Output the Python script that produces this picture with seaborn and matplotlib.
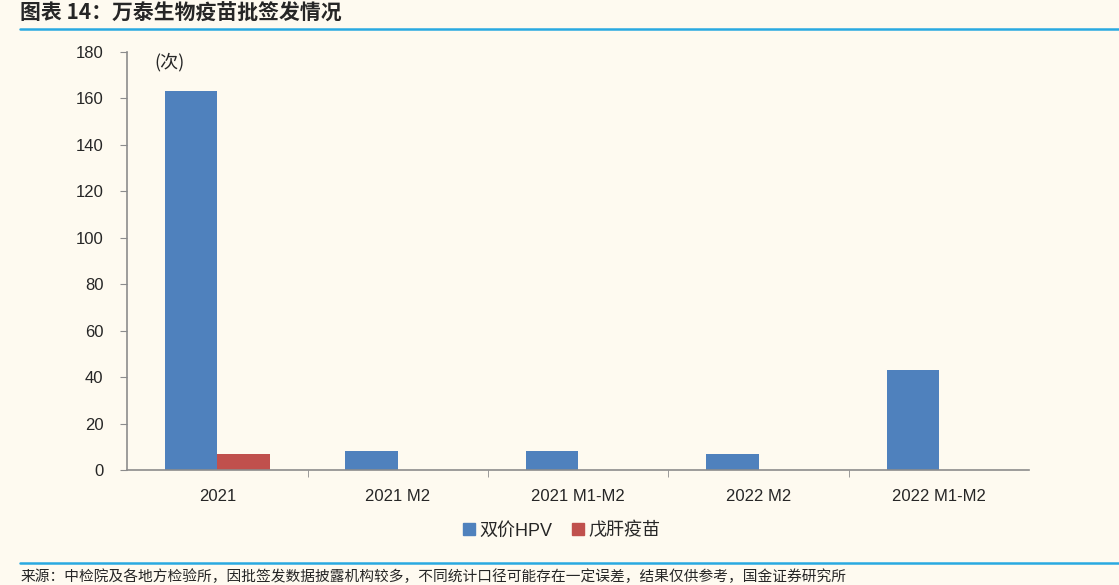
import pandas as pd
import matplotlib.pyplot as plt
import seaborn as sns
from matplotlib.lines import Line2D

# Data
categories = ["2021", "2021 M2", "2021 M1-M2", "2022 M2", "2022 M1-M2"]
hpv = [163, 8, 8, 7, 43]
hev = [7, 0, 0, 0, 0]
series_names = ["双价HPV", "戊肝疫苗"]
colors = ["#4F81BD", "#C0504D"]
yticks = [0, 20, 40, 60, 80, 100, 120, 140, 160, 180]

df = pd.DataFrame({
    "cat": categories * 2,
    "val": hpv + hev,
    "series": [series_names[0]] * len(categories) + [series_names[1]] * len(categories),
})

sns.set_style("white")
plt.rcParams["font.family"] = ["Liberation Sans", "Noto Sans CJK SC", "DejaVu Sans"]
bg = "#FEFAF0"

fig = plt.figure(figsize=(11.19, 5.85), dpi=100, facecolor=bg)
ax = fig.add_axes([0.1135, 0.1966, 0.8065, 0.7145])
ax.set_facecolor(bg)

sns.barplot(data=df, x="cat", y="val", hue="series", order=categories,
            hue_order=series_names, palette=colors, width=0.58,
            saturation=1, linewidth=0, ax=ax, legend=False)

ax.set_ylim(0, 180)
ax.set_yticks(yticks)
ax.set_xlim(-0.5, len(categories) - 0.5)
ax.set_xlabel("")
ax.set_ylabel("")

for s in ["top", "right"]:
    ax.spines[s].set_visible(False)
for s in ["left", "bottom"]:
    ax.spines[s].set_color("#8C8C8C")
    ax.spines[s].set_linewidth(1.2)

ax.tick_params(axis="y", direction="out", length=5, color="#8C8C8C",
               labelsize=12, pad=12, left=True)
ax.set_xticks(range(len(categories)))
ax.set_xticklabels(categories, fontsize=12)
ax.tick_params(axis="x", length=0, pad=14)
# tick marks between categories
ax.set_xticks([i + 0.5 for i in range(len(categories) - 1)], minor=True)
ax.tick_params(axis="x", which="minor", direction="out", length=5,
               color="#8C8C8C", bottom=True)

ax.text(0.03, 0.975, "(次)", transform=ax.transAxes, fontsize=13,
        family=["Noto Sans CJK SC"], va="center", ha="left")

handles = [Line2D([], [], marker="s", linestyle="", markersize=8,
                  markerfacecolor=c, markeredgecolor=c) for c in colors]
fig.legend(handles, series_names, loc="center", bbox_to_anchor=(0.5, 0.093),
           ncol=2, frameon=False, handletextpad=0.0, handlelength=1.2,
           columnspacing=0.8,
           prop={"family": ["Liberation Sans", "Noto Sans CJK SC"], "size": 13})

# title and footer
fig.text(0.018, 0.978, "图表 14：万泰生物疫苗批签发情况", fontsize=15, fontweight="bold",
         style="italic", family=["Noto Sans CJK SC", "DejaVu Sans"], va="center", ha="left")
fig.add_artist(Line2D([0.018, 1.0], [0.951, 0.951], color="#29A9E1", linewidth=1.8))
fig.add_artist(Line2D([0.018, 1.0], [0.038, 0.038], color="#29A9E1", linewidth=1.8))
fig.text(0.018, 0.014,
         "来源：中检院及各地方检验所，因批签发数据披露机构较多，不同统计口径可能存在一定误差，结果仅供参考，国金证券研究所",
         fontsize=10.6, family=["Noto Sans CJK SC", "DejaVu Sans"], va="center", ha="left")

plt.savefig("out.png", dpi=100, facecolor=bg)
